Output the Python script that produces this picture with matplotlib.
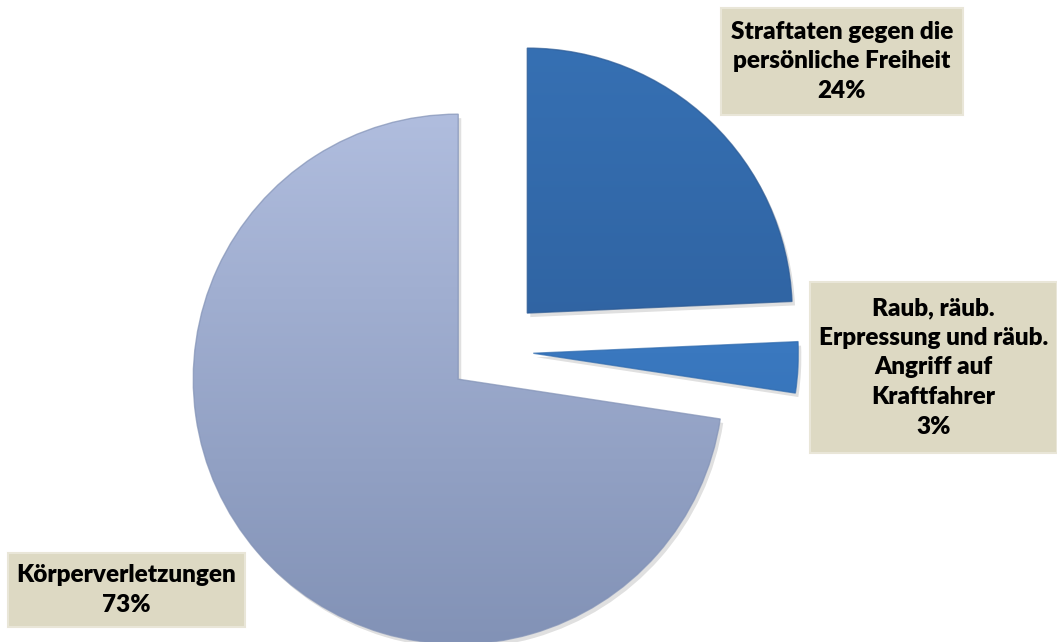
import matplotlib
matplotlib.use("Agg")
import matplotlib.pyplot as plt
import numpy as np
from matplotlib.patches import Rectangle, Wedge
from matplotlib.colors import LinearSegmentedColormap

# ---- data ----
categories = ["Straftaten gegen die\npersönliche Freiheit",
              "Raub, räub.\nErpressung und räub.\nAngriff auf\nKraftfahrer",
              "Körperverletzungen"]
values = [24.3, 3.1, 72.6]
explode_frac = [0.198, 0.16, 0.163]
top_colors = ["#3670B3", "#4686D0", "#B0BDDE"]
bottom_colors = ["#2A5994", "#2E6AAE", "#8292B6"]

W, H = 1057, 642
fig = plt.figure(figsize=(W / 100, H / 100), dpi=100)
ax = fig.add_axes([0, 0, 1, 1])

center = (491, H - 351)
R = 265
wedges, _ = ax.pie(values, explode=[e * R for e in explode_frac],
                   startangle=90, counterclock=False,
                   center=center, radius=R, colors=top_colors,
                   wedgeprops=dict(linewidth=0))
ax.set_xlim(0, W)
ax.set_ylim(0, H)
ax.set_aspect("equal")
ax.axis("off")

# gradients, shadows and edges
for w, tc, bc in zip(wedges, top_colors, bottom_colors):
    cx, cy = w.center
    r = w.r
    sh = Wedge((cx + 3, cy - 4), r, w.theta1, w.theta2, facecolor="#000000",
               alpha=0.12, linewidth=0, zorder=0.5)
    ax.add_patch(sh)
    w.set_zorder(1)
    w.set_facecolor("none")
    cmap = LinearSegmentedColormap.from_list("g", [bc, tc])
    grad = np.linspace(0, 1, 256).reshape(-1, 1)
    im = ax.imshow(grad, cmap=cmap, origin="lower",
                   extent=(cx - r, cx + r, cy - r, cy + r),
                   aspect="auto", zorder=1, interpolation="bilinear")
    im.set_clip_path(w)
    edge = Wedge((cx, cy), r, w.theta1, w.theta2, facecolor="none",
                 edgecolor=bc, linewidth=1.0, zorder=2, alpha=0.7)
    ax.add_patch(edge)
ax.set_xlim(0, W)
ax.set_ylim(0, H)

# labels
pct = [f"{v:.0f}%" for v in values]
boxes = [(721, 8, 963, 115), (810, 282, 1057, 453), (8, 553, 245, 627)]
for (x0, y0, x1, y1), cat, p in zip(boxes, categories, pct):
    ax.add_patch(Rectangle((x0, H - y1), x1 - x0, y1 - y0,
                           facecolor="#DDD9C3", edgecolor="#E9E6D8",
                           linewidth=1.5, zorder=3))
    ax.text((x0 + x1) / 2, H - (y0 + y1) / 2, cat + "\n" + p,
            ha="center", va="center", multialignment="center",
            fontsize=17.5, fontweight="heavy", family="Lato",
            linespacing=1.42, color="#000000", zorder=4)

fig.savefig("out.png", dpi=100)
